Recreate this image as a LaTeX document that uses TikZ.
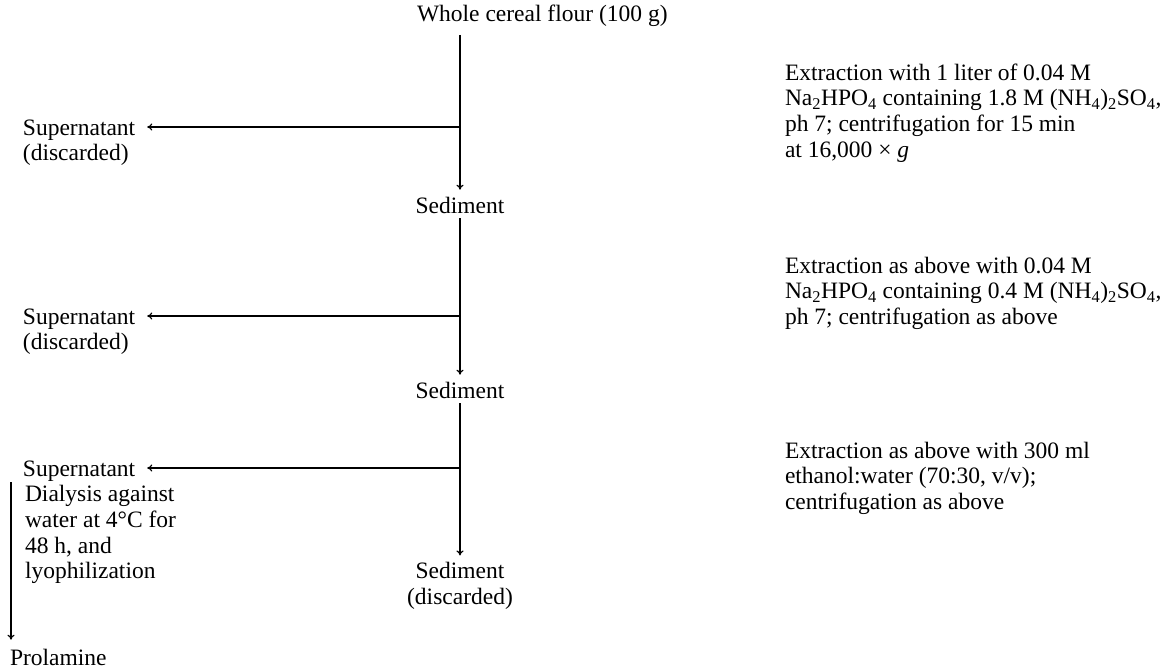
\documentclass[tikz,border=0pt]{standalone}
\usepackage{fontspec}
\setmainfont{Liberation Serif}
\usetikzlibrary{arrows.meta}
\begin{document}
\begin{tikzpicture}[x=1pt,y=-1pt,
  every node/.style={inner sep=0pt,outer sep=0pt,font=\fontsize{23.5}{25.7}\selectfont},
  txt/.style={align=left,anchor=base west},
  ctr/.style={align=center,anchor=base},
  flow/.style={line width=1.2pt,-{To[length=5pt,width=7pt]}}]
\useasboundingbox (0,0) rectangle (1160,669);
% main column (anchors sit on the baseline of the LAST line)
\node[txt] (title) at (417,22) {Whole cereal flour (100 g)};
\node[ctr] (sed1) at (460,213) {Sediment};
\node[ctr] (sed2) at (460,398) {Sediment};
\node[ctr] (sed3) at (460,604.5) {Sediment\\(discarded)};
% left column
\node[txt] (sup1) at (23,160.7) {Supernatant\\(discarded)};
\node[txt] (sup2) at (23,349.7) {Supernatant\\(discarded)};
\node[txt] (sup3) at (23,476) {Supernatant};
\node[txt] (dial) at (25,578.8) {Dialysis against\\water at 4°C for\\48 h, and\\lyophilization};
\node[txt] (prol) at (10,665) {Prolamine};
% right column
\node[txt] (r1) at (785,157.1) {Extraction with 1 liter of 0.04 M\\Na\textsubscript{2}HPO\textsubscript{4} containing 1.8 M (NH\textsubscript{4})\textsubscript{2}SO\textsubscript{4},\\ph 7; centrifugation for 15 min\\at 16,000 × \textit{g}};
\node[txt] (r2) at (785,324.4) {Extraction as above with 0.04 M\\Na\textsubscript{2}HPO\textsubscript{4} containing 0.4 M (NH\textsubscript{4})\textsubscript{2}SO\textsubscript{4},\\ph 7; centrifugation as above};
\node[txt] (r3) at (785,509.4) {Extraction as above with 300 ml\\ethanol:water (70:30, v/v);\\centrifugation as above};
% junctions
\coordinate (t0) at (460,35);
\coordinate (j1) at (460,127);
\coordinate (s1) at (460,218);
\coordinate (j2) at (460,316);
\coordinate (s2) at (460,403);
\coordinate (j3) at (460,468);
\coordinate (p0) at (11,482);
% connectors
\draw[flow] (t0) -- ([yshift=7pt]sed1.north);
\draw[flow] (j1) -- ([xshift=12pt]j1 -| sup1.east);
\draw[flow] (s1) -- ([yshift=7pt]sed2.north);
\draw[flow] (j2) -- ([xshift=12pt]j2 -| sup2.east);
\draw[flow] (s2) -- ([yshift=7pt]sed3.north);
\draw[flow] (j3) -- ([xshift=12pt]j3 -| sup3.east);
\draw[flow] (p0) -- ([yshift=9pt]p0 |- prol.north);
\end{tikzpicture}
\end{document}
